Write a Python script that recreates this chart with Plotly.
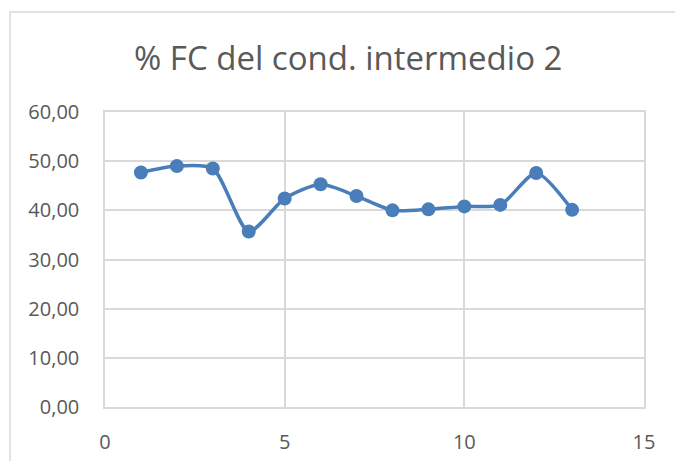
import plotly.graph_objects as go

# Series: muestra number vs % FC of intermediate conductor 2
muestra = [1, 2, 3, 4, 5, 6, 7, 8, 9, 10, 11, 12, 13]
pct_fc = [47.7, 49.0, 48.5, 35.7, 42.4, 45.3, 42.9, 40.0, 40.2, 40.8, 41.1, 47.6, 40.1]

x_ticks = [0, 5, 10, 15]
y_ticks = [0, 10, 20, 30, 40, 50, 60]
y_tick_text = ["0,00", "10,00", "20,00", "30,00", "40,00", "50,00", "60,00"]

title_text = "% FC del cond. intermedio 2"

W, H = 675, 461
L, R, T, B = 105, 31, 112, 54
pw, ph = W - L - R, H - T - B

def px_x(p):
    return (p - L) / pw

def px_y(p):
    return (H - B - p) / ph

line_color = "#4a7ebb"
grid_color = "#d9d9d9"
text_color = "#595959"

fig = go.Figure()
fig.add_trace(go.Scatter(
    x=muestra, y=pct_fc,
    mode="lines+markers",
    line=dict(color=line_color, width=3.5, shape="spline", smoothing=0.7),
    marker=dict(color=line_color, size=14),
    showlegend=False,
    cliponaxis=False,
))

fig.update_layout(
    width=W, height=H,
    margin=dict(l=L, r=R, t=T, b=B, autoexpand=False),
    paper_bgcolor="white",
    plot_bgcolor="white",
    font=dict(family="Open Sans, Noto Sans, sans-serif", color=text_color, size=20),
    xaxis=dict(
        range=[0, 15], tickvals=x_ticks, ticktext=[str(v) for v in x_ticks],
        showgrid=True, gridcolor=grid_color, gridwidth=1.5,
        showline=True, linecolor=grid_color, linewidth=1.5, mirror=True,
        zeroline=False, ticks="outside", ticklen=16, tickcolor="rgba(0,0,0,0)",
        tickfont=dict(size=20, color=text_color), automargin=False,
    ),
    yaxis=dict(
        range=[0, 60], tickvals=y_ticks, ticktext=y_tick_text,
        showgrid=True, gridcolor=grid_color, gridwidth=1.5,
        showline=True, linecolor=grid_color, linewidth=1.5, mirror=True,
        zeroline=False, ticks="outside", ticklen=20,
        tickcolor="rgba(0,0,0,0)",
        tickfont=dict(size=20, color=text_color), automargin=False,
    ),
    shapes=[
        # outer chart frame
        dict(type="rect", xref="paper", yref="paper",
             x0=px_x(10), x1=px_x(700), y0=px_y(480), y1=px_y(12),
             line=dict(color=grid_color, width=1.5), fillcolor="rgba(0,0,0,0)",
             layer="below"),
    ],
    annotations=[
        dict(text=title_text, xref="paper", yref="paper",
             x=px_x(348), y=px_y(57), xanchor="center", yanchor="middle",
             showarrow=False, font=dict(size=33, color=text_color)),
    ],
)

fig.write_html("out.html")
